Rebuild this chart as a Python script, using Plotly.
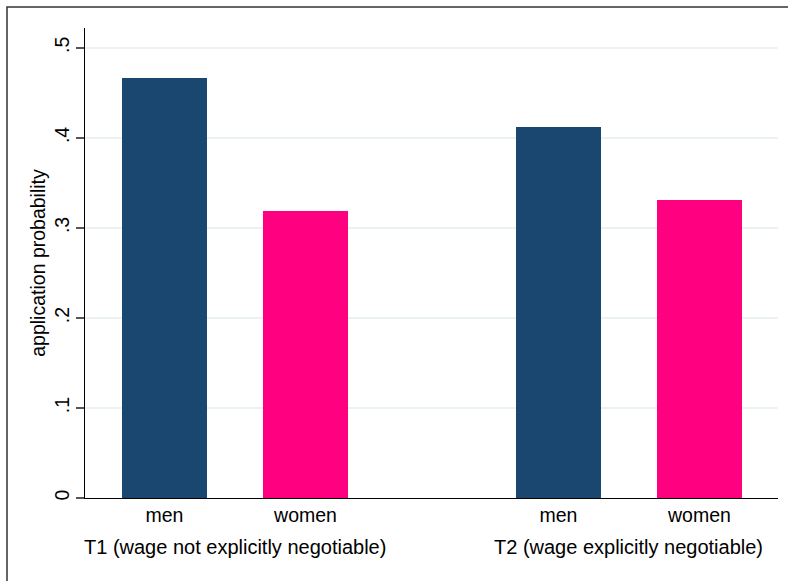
import plotly.graph_objects as go

# ---- data ----
groups = ["T1 (wage not explicitly negotiable)", "T2 (wage explicitly negotiable)"]
sexes = ["men", "women"]
men = [0.466, 0.412]
women = [0.319, 0.331]
ytick_vals = [0, 0.1, 0.2, 0.3, 0.4, 0.5]
ytick_text = ["0", ".1", ".2", ".3", ".4", ".5"]
y_title = "application probability"

# ---- layout params ----
W, H = 788, 581
ML, MR, MT, MB = 85, 10, 28, 83
group_gap = 0.794          # extra space between groups (in slot units)
bar_width = 0.603
navy = "#1a476f"
pink = "#ff0080"
font_family = "Liberation Sans, Arial, sans-serif"
fs = 19.5

n_slots = len(sexes)
step = n_slots + group_gap
pos = {s: [g * step + i for g in range(len(groups))] for i, s in enumerate(sexes)}
group_centers = [g * step + (n_slots - 1) / 2 for g in range(len(groups))]

x_lo = -0.5638
x_hi = x_lo + (W - ML - MR) / 141.0

fig = go.Figure()
fig.add_bar(x=pos["men"], y=men, width=bar_width, marker=dict(color=navy, line=dict(width=0)),
            name="men", showlegend=False)
fig.add_bar(x=pos["women"], y=women, width=bar_width, marker=dict(color=pink, line=dict(width=0)),
            name="women", showlegend=False)

tickvals_x = []
ticktext_x = []
for g in range(len(groups)):
    for i, s in enumerate(sexes):
        tickvals_x.append(pos[s][g])
        ticktext_x.append(s)

plot_h = H - MT - MB
plot_w = W - ML - MR

annotations = []
for g, label in enumerate(groups):
    annotations.append(dict(x=group_centers[g], xref="x", y=(H - MB - 547) / plot_h, yref="paper",
                            text=label, showarrow=False, xanchor="center", yanchor="middle",
                            font=dict(family=font_family, size=20, color="#000000")))

# outer frame (extends beyond the image at right/bottom)
frame = dict(type="rect", xref="paper", yref="paper",
             x0=(7 - ML) / plot_w, x1=1.3,
             y0=-0.5, y1=1 + (MT - 7) / plot_h,
             line=dict(color="#333333", width=1.5), fillcolor="rgba(0,0,0,0)", layer="below")

fig.update_layout(
    width=W, height=H,
    margin=dict(l=ML, r=MR, t=MT, b=MB, pad=0),
    paper_bgcolor="white", plot_bgcolor="white",
    font=dict(family=font_family, size=fs, color="#000000"),
    bargap=0,
    shapes=[frame],
    annotations=annotations,
    xaxis=dict(range=[x_lo, x_hi], tickmode="array", tickvals=tickvals_x, ticktext=ticktext_x,
               showgrid=False, zeroline=False, showline=True, linecolor="#000000", linewidth=1.2,
               ticks="", ticklabelstandoff=-1, tickfont=dict(size=fs)),
    yaxis=dict(range=[0, 0.522], tickmode="array", tickvals=ytick_vals, ticktext=ytick_text,
               showgrid=True, gridcolor="#eaf2f3", gridwidth=1.5, zeroline=False,
               showline=True, linecolor="#000000", linewidth=1.2,
               ticks="outside", ticklen=8, tickwidth=1.5, tickcolor="#555555",
               tickangle=-90, ticklabelstandoff=-1, tickfont=dict(size=fs),
               title=dict(text=y_title, standoff=0, font=dict(size=fs))),
)

fig.write_html("out.html", config={"displayModeBar": False},
               post_script="document.body.style.margin='0';document.body.style.overflow='hidden';")
